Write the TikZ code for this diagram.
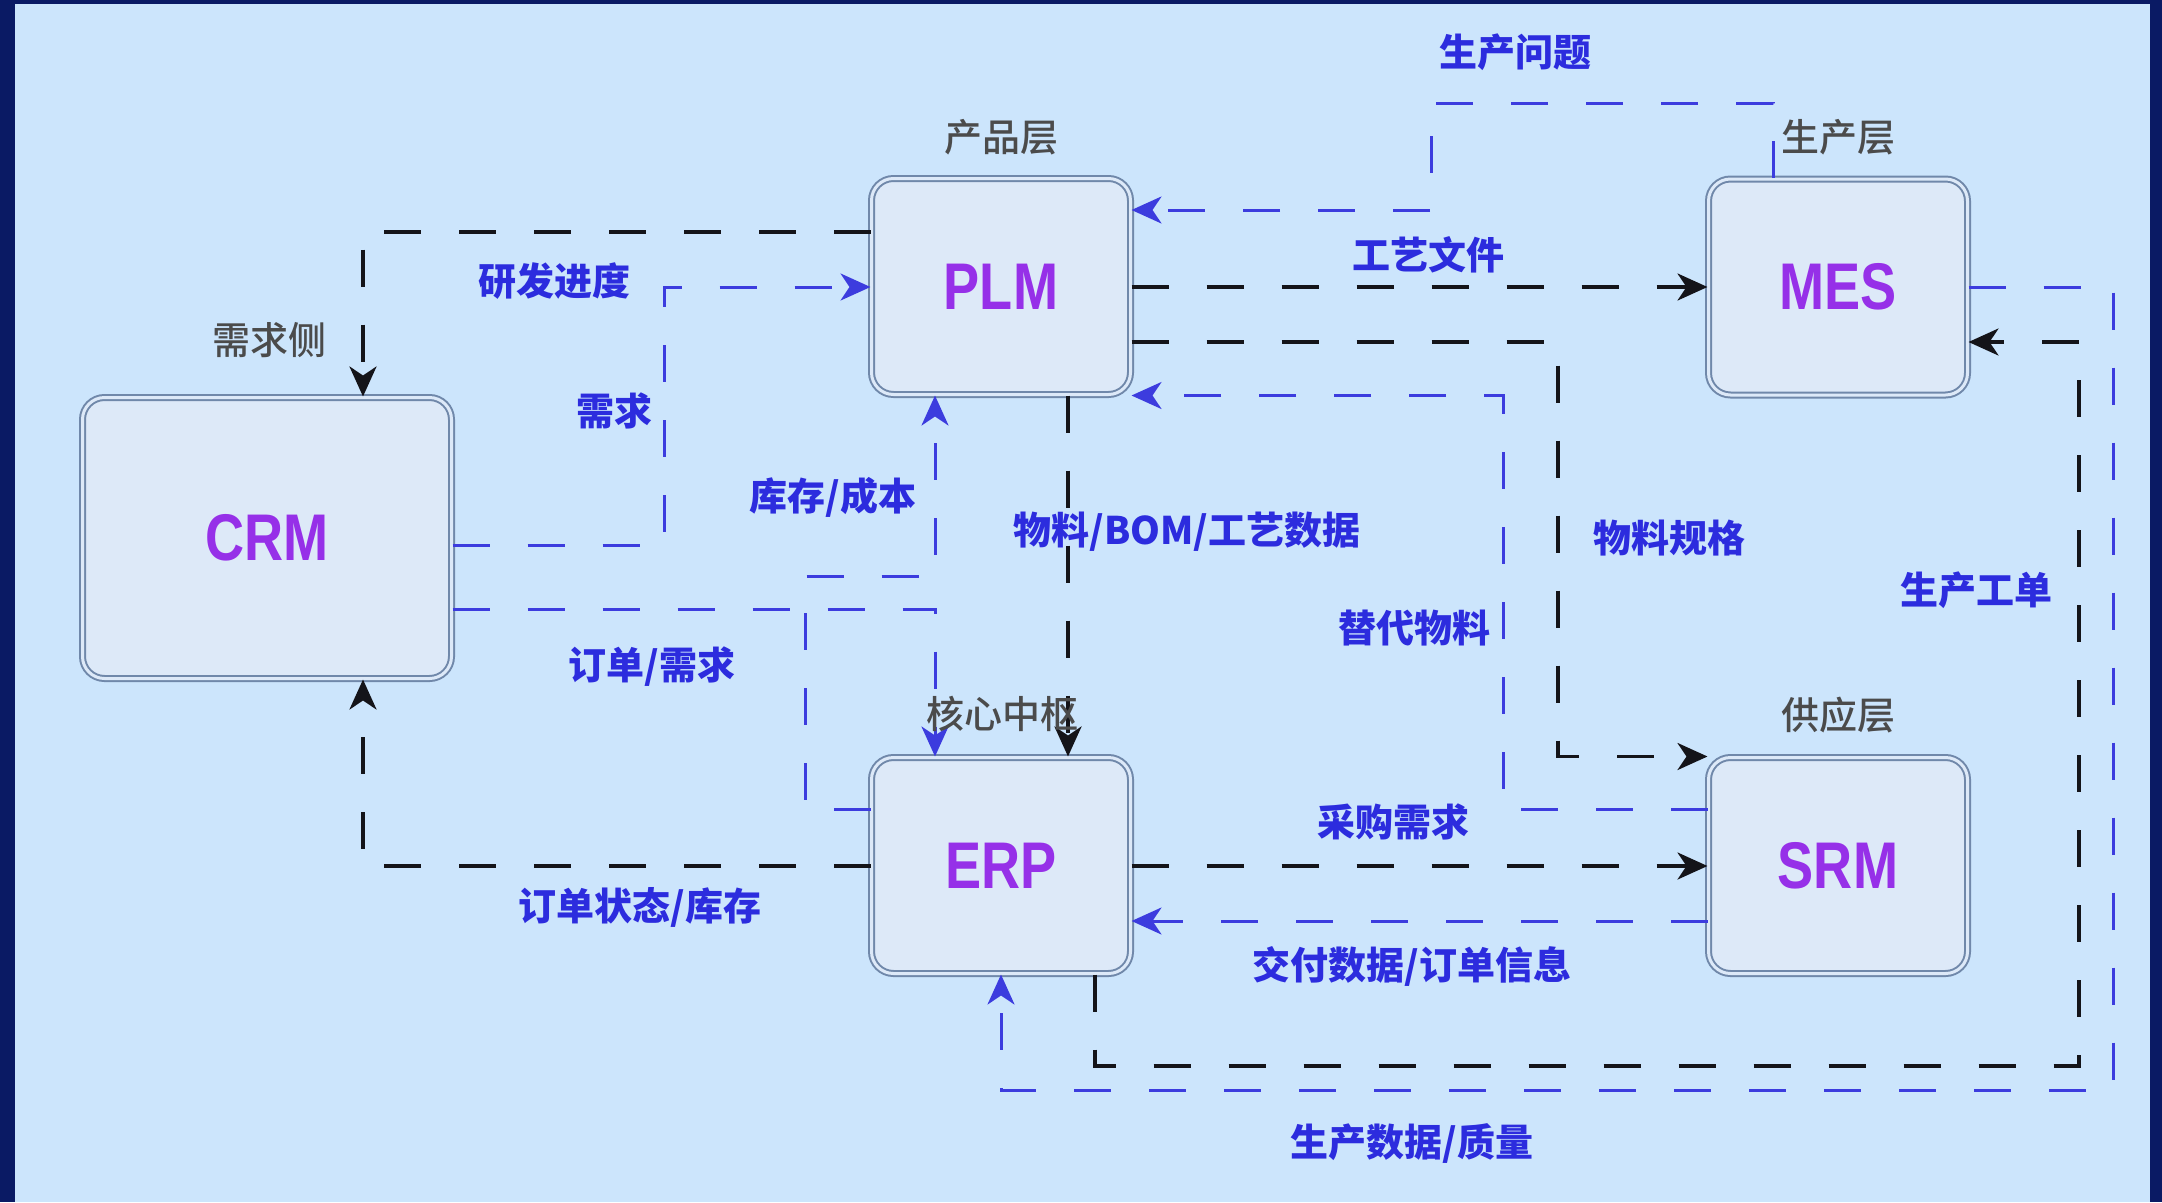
\documentclass[tikz,border=0pt]{standalone}
\usepackage{fontspec}
\newfontfamily\cjk{Noto Sans CJK SC}
\newfontfamily\cjkm{Noto Sans CJK SC}[UprightFont={* Medium}]
\newfontfamily\sysf{Liberation Sans}
\usetikzlibrary{arrows.meta,calc}
\definecolor{frame}{RGB}{10,26,100}
\definecolor{bgc}{RGB}{204,229,252}
\definecolor{nodefill}{RGB}{221,233,248}
\definecolor{nodeline}{RGB}{112,136,170}
\definecolor{purp}{RGB}{150,48,232}
\definecolor{flow}{RGB}{60,60,222}
\definecolor{labb}{RGB}{44,44,222}
\definecolor{layg}{RGB}{75,75,75}
\tikzset{
  sys/.style={draw=nodeline, line width=2pt, double=nodefill, double distance=3pt,
    fill=nodefill, rounded corners=22pt, inner sep=0pt, text=purp,
    font={\sysf\bfseries\fontsize{66pt}{66pt}\selectfont},
    minimum width=259pt, minimum height=216pt},
  bk/.style={draw={rgb,255:red,20;green,20;blue,25}, line width=3.5pt, dash pattern=on 37pt off 38pt,
    -{Stealth[length=30pt,width=27pt,inset=9pt]}},
  bl/.style={draw=flow, line width=3pt, dash pattern=on 37pt off 38pt,
    -{Stealth[length=30pt,width=27pt,inset=9pt]}},
  lab/.style={inner sep=0pt, text=labb, font={\cjk\bfseries\fontsize{38pt}{40pt}\selectfont}},
  layer/.style={inner sep=0pt, text=layg, font={\cjkm\fontsize{38pt}{40pt}\selectfont}},
}
\newcommand{\sq}[1]{\scalebox{0.82}[1]{#1}}
\begin{document}
\begin{tikzpicture}[x=1pt,y=-1pt]
\useasboundingbox (0,0) rectangle (2162,1202);
\fill[frame] (0,0) rectangle (2162,1202);
\fill[bgc] (15,4) rectangle (2150,1202);

% systems
\node[sys, minimum width=369pt, minimum height=281pt] (CRM) at (267,538) {\sq{CRM}};
\node[sys] (PLM) at (1001,286.5) {\sq{PLM}};
\node[sys] (MES) at (1838,287) {\sq{MES}};
\node[sys] (ERP) at (1001,865.5) {\sq{ERP}};
\node[sys] (SRM) at (1838,865.5) {\sq{SRM}};

% connectors
\draw[bk] (PLM.west |- 0,232) -| (CRM.north -| 363,0);
\draw[bl] (CRM.east |- 0,545) -| (664,287) -- (PLM.west |- 0,287);
\draw[bl] (CRM.east |- 0,609) -| (ERP.north -| 935,0);
\draw[bl] (ERP.west |- 0,809) -| (805,576) -| (PLM.south -| 935,0);
\draw[bk] (PLM.south -| 1068,0) -- (ERP.north -| 1068,0);
\draw[bk] (PLM.east |- 0,287) -- (MES.west |- 0,287);
\draw[bl] (MES.north -| 1773,0) |- (1431,103) |- (PLM.east |- 0,210);
\draw[bk] (PLM.east |- 0,342) -| (SRM.north west -| 1558,0) -- (SRM.north west);
\draw[bl] (SRM.west |- 0,809) -| (PLM.south east -| 1503,0) -- (PLM.south east);
\draw[bk] (ERP.east |- 0,866) -- (SRM.west |- 0,866);
\draw[bl] (SRM.west |- 0,921) -- (ERP.east |- 0,921);
\draw[bk] (ERP.west |- 0,866) -| (CRM.south -| 363,0);
\draw[bk] (ERP.south -| 1095,0) |- (2079,1066) |- (MES.east |- 0,342);
\draw[bl] (MES.east |- 0,287) -| (2113,1090) -| (ERP.south -| 1001,0);

% layer labels
\node[layer] (Lprod) at (1001,137) {产品层};
\node[layer] (Lmes) at (1838,137) {生产层};
\node[layer] (Lcrm) at (269,340) {需求侧};
\node[layer] (Lerp) at (1002,714) {核心中枢};
\node[layer] (Lsrm) at (1838,715) {供应层};

% flow labels
\node[lab] (t1) at (1515,52) {生产问题};
\node[lab] (t2) at (554,281) {研发进度};
\node[lab] (t3) at (614,411) {需求};
\node[lab] (t4) at (833,497) {库存/成本};
\node[lab] (t5) at (1428,255) {工艺文件};
\node[lab] (t6) at (1187,532) {物料/BOM/工艺数据};
\node[lab] (t7) at (1669,538) {物料规格};
\node[lab] (t8) at (1976,590) {生产工单};
\node[lab] (t9) at (1414,628) {替代物料};
\node[lab] (t10) at (652,667) {订单/需求};
\node[lab] (t11) at (1393,822) {采购需求};
\node[lab] (t12) at (640,907) {订单状态/库存};
\node[lab] (t13) at (1412,966) {交付数据/订单信息};
\node[lab] (t14) at (1412,1143) {生产数据/质量};
\end{tikzpicture}
\end{document}
